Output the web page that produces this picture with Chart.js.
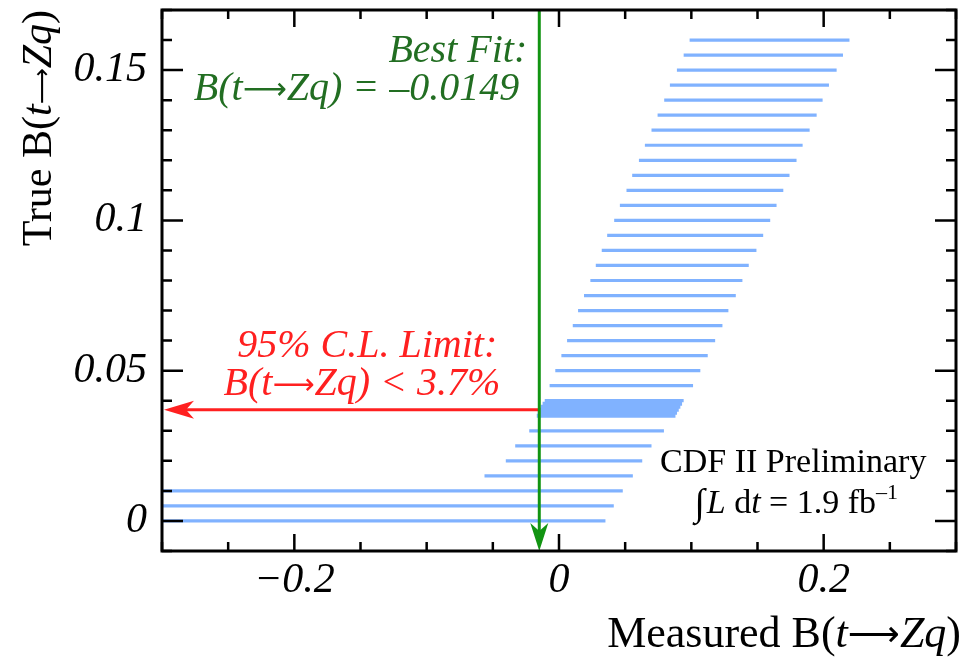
<!DOCTYPE html>
<html>
<head>
<meta charset="utf-8">
<script src="https://cdn.jsdelivr.net/npm/chart.js@4.4.1/dist/chart.umd.min.js"></script>
<style>
  html, body { margin: 0; padding: 0; background: #fff; }
  canvas { display: block; }
</style>
</head>
<body>
<canvas id="belt" width="967" height="658"></canvas>
<script>
// Feldman-Cousins belt: for each true B, the accepted range of measured B
const trueB = [0, 0.005, 0.01, 0.015, 0.02, 0.025, 0.03,
  0.035, 0.036, 0.037, 0.038, 0.039,
  0.04, 0.045, 0.05, 0.055, 0.06, 0.065, 0.07, 0.075, 0.08, 0.085,
  0.09, 0.095, 0.1, 0.105, 0.11, 0.115, 0.12, 0.125, 0.13, 0.135,
  0.14, 0.145, 0.15, 0.155, 0.16];
const measLow = [-0.4, -0.4, -0.4, -0.0563, -0.0402, -0.0331, -0.0225,
  -0.0168, -0.016, -0.0149, -0.0138, -0.0124,
  -0.0108, -0.0071, -0.0028, 0.0018, 0.0061, 0.0104, 0.0144, 0.0189, 0.0237, 0.0278,
  0.0323, 0.0364, 0.0417, 0.046, 0.051, 0.0553, 0.0604, 0.0649, 0.0699, 0.0745,
  0.0795, 0.0838, 0.0891, 0.0942, 0.0987];
const measHigh = [0.0351, 0.0414, 0.0482, 0.0558, 0.0629, 0.0699, 0.0793,
  0.088, 0.0892, 0.0905, 0.0917, 0.093,
  0.0942, 0.1013, 0.1068, 0.1124, 0.118, 0.1235, 0.128, 0.1336, 0.1386, 0.1434,
  0.1492, 0.1543, 0.1596, 0.1644, 0.1695, 0.1742, 0.1795, 0.1841, 0.1894, 0.1947,
  0.1992, 0.204, 0.2098, 0.2146, 0.2195];

const bestFit = -0.0149;   // measured value
const limit95 = 0.037;     // 95% C.L. upper limit

const xLabels = { '-20': '−0.2', '0': '0', '20': '0.2' };
const yLabels = { '0': '0', '5': '0.05', '10': '0.1', '15': '0.15' };

const SERIF = '"Liberation Serif", "DejaVu Serif", serif';
const BELT = '#80b2ff';
const GREEN_LINE = '#129412';
const GREEN_TEXT = '#226e22';
const RED = '#ff2020';

const datasets = trueB.map(function(t, i) {
  // the finely sampled rows just under 0.04 merge into a solid band
  const inBand = t > 0.0345 && t < 0.0395;
  return {
    data: [{ x: measLow[i], y: t }, { x: measHigh[i], y: t }],
    showLine: true,
    borderColor: BELT,
    borderWidth: inBand ? 4 : 3.2,
    pointRadius: 0
  };
});

// draw text made of pieces with different fonts: [text, font, dy]
function richText(ctx, parts, x, y, align, color) {
  let total = 0;
  parts.forEach(function(p) { ctx.font = p[1]; total += ctx.measureText(p[0]).width; });
  let cx = align === 'right' ? x - total : (align === 'center' ? x - total / 2 : x);
  ctx.fillStyle = color;
  ctx.textAlign = 'left';
  ctx.textBaseline = 'alphabetic';
  parts.forEach(function(p) {
    ctx.font = p[1];
    ctx.fillText(p[0], cx, y + (p[2] || 0));
    cx += ctx.measureText(p[0]).width;
  });
}

// long arrow glyph sized to a wanted width
function longArrow(ctx, width, dy) {
  ctx.font = '100px "DejaVu Sans"';
  const w = ctx.measureText('⟶').width;
  return ['⟶', (100 * width / w).toFixed(1) + 'px "DejaVu Sans"', dy || 0];
}

function bzq(ctx, up, it, arrowW, dy) {
  return [['B(', up], ['t', it], longArrow(ctx, arrowW, dy), ['Zq', it], [')', up]];
}

function arrowHead(ctx, tipX, tipY, dirX, dirY, len, half, notch) {
  const px = -dirY, py = dirX;
  ctx.beginPath();
  ctx.moveTo(tipX, tipY);
  ctx.lineTo(tipX - dirX * len + px * half, tipY - dirY * len + py * half);
  ctx.lineTo(tipX - dirX * notch, tipY - dirY * notch);
  ctx.lineTo(tipX - dirX * len - px * half, tipY - dirY * len - py * half);
  ctx.closePath();
  ctx.fill();
}

const decorations = {
  id: 'decorations',
  afterDatasetsDraw(chart) {
    const ctx = chart.ctx;
    const area = chart.chartArea;
    const xs = chart.scales.x, ys = chart.scales.y;
    const xb = xs.getPixelForValue(bestFit);
    const yl = ys.getPixelForValue(limit95);

    ctx.save();
    // red limit arrow
    const xTip = xs.getPixelForValue(-0.2985);
    ctx.strokeStyle = RED;
    ctx.fillStyle = RED;
    ctx.lineWidth = 3;
    ctx.beginPath();
    ctx.moveTo(xb, yl);
    ctx.lineTo(xTip + 10, yl);
    ctx.stroke();
    arrowHead(ctx, xTip, yl, -1, 0, 30, 9, 22);

    // green best fit arrow
    ctx.strokeStyle = GREEN_LINE;
    ctx.fillStyle = GREEN_LINE;
    ctx.lineWidth = 3;
    ctx.beginPath();
    ctx.moveTo(xb, area.top);
    ctx.lineTo(xb, area.bottom - 10);
    ctx.stroke();
    arrowHead(ctx, xb, area.bottom, 0, 1, 28, 9, 20);

    const it40 = 'italic 40px ' + SERIF;
    richText(ctx, [['Best Fit:', it40]], xb - 12, area.top + 52, 'right', GREEN_TEXT);
    richText(ctx, [['B(t', it40], longArrow(ctx, 44, -1), ['Zq) = –0.0149', it40]],
      xb - 20, area.top + 90, 'right', GREEN_TEXT);
    richText(ctx, [['95% C.L. Limit:', it40]], xb - 42, yl - 53, 'right', RED);
    richText(ctx, [['B(t', it40], longArrow(ctx, 42, -1), ['Zq) < 3.7%', it40]],
      xb - 39, yl - 15, 'right', RED);

    const up34 = '34px ' + SERIF, it34 = 'italic 34px ' + SERIF, up22 = '22px ' + SERIF;
    const cxText = xs.getPixelForValue(0.177);
    richText(ctx, [['CDF II Preliminary', up34]], cxText, area.bottom - 79, 'center', '#000');
    richText(ctx, [['∫', '38px ' + SERIF, 2], [' ', '8px ' + SERIF], ['L', it34], [' d', up34], ['t', it34],
      [' = 1.9 fb', up34], ['–1', up22, -14]],
      cxText + 3, area.bottom - 38, 'center', '#000');

    // frame
    ctx.strokeStyle = '#000';
    ctx.lineWidth = 3;
    ctx.strokeRect(area.left, area.top, area.right - area.left, area.bottom - area.top);

    // inward ticks
    ctx.lineWidth = 2.5;
    ctx.beginPath();
    xs.ticks.forEach(function(t) {
      const k = Math.round(t.value * 100);
      const len = (k % 20 === 0) ? 17 : 9;
      const px = xs.getPixelForValue(t.value);
      ctx.moveTo(px, area.bottom); ctx.lineTo(px, area.bottom - len);
      ctx.moveTo(px, area.top); ctx.lineTo(px, area.top + len);
    });
    ys.ticks.forEach(function(t) {
      const k = Math.round(t.value * 100);
      const len = (k % 5 === 0) ? 21 : 10;
      const py = ys.getPixelForValue(t.value);
      ctx.moveTo(area.left, py); ctx.lineTo(area.left + len, py);
      ctx.moveTo(area.right, py); ctx.lineTo(area.right - len, py);
    });
    ctx.stroke();

    // axis titles
    const up44 = '44px ' + SERIF, it44 = 'italic 44px ' + SERIF;
    const up42 = '42px ' + SERIF, it42 = 'italic 42px ' + SERIF;
    richText(ctx, [['Measured ', up44]].concat(bzq(ctx, up44, it44, 52, -1)), 961, 647, 'right', '#000');
    ctx.translate(51, area.top);
    ctx.rotate(-Math.PI / 2);
    richText(ctx, [['True ', up42]].concat(bzq(ctx, up42, it42, 36, -1)), 0, 0, 'right', '#000');
    ctx.restore();
  }
};

function noPad(s) {
  s.paddingTop = 0; s.paddingBottom = 0; s.paddingLeft = 0; s.paddingRight = 0;
}

new Chart(document.getElementById('belt'), {
  type: 'scatter',
  data: { datasets: datasets },
  options: {
    responsive: false,
    animation: false,
    layout: { padding: { left: 0, right: 11, top: 10, bottom: 0 } },
    plugins: { legend: { display: false }, tooltip: { enabled: false } },
    scales: {
      x: {
        type: 'linear',
        min: -0.3,
        max: 0.3,
        afterFit: function(s) { s.height = 107; noPad(s); },
        grid: { display: false, drawTicks: false },
        border: { display: false },
        ticks: {
          stepSize: 0.05,
          autoSkip: false,
          maxRotation: 0,
          maxTicksLimit: 100,
          padding: 5,
          color: '#000',
          font: { family: SERIF, size: 42, style: 'italic' },
          callback: function(v) { return xLabels[Math.round(v * 100)] || ''; }
        }
      },
      y: {
        type: 'linear',
        min: -0.01,
        max: 0.17,
        afterFit: function(s) { s.width = 162; noPad(s); },
        grid: { display: false, drawTicks: false },
        border: { display: false },
        ticks: {
          stepSize: 0.01,
          autoSkip: false,
          maxTicksLimit: 100,
          padding: 15,
          color: '#000',
          font: { family: SERIF, size: 42, style: 'italic' },
          callback: function(v) { return yLabels[Math.round(v * 100)] || ''; }
        }
      }
    }
  },
  plugins: [decorations]
});
</script>
</body>
</html>
